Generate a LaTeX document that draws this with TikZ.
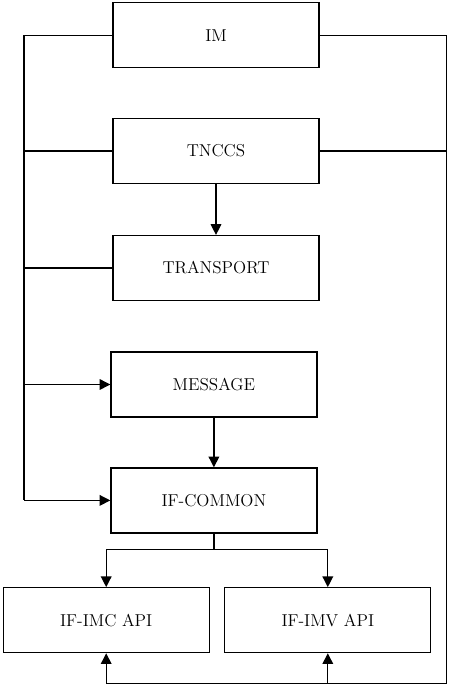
\documentclass[tikz,border=0pt]{standalone}
\usetikzlibrary{arrows.meta}
\begin{document}
\begin{tikzpicture}[x=0.75pt,y=-0.75pt,
  blk/.style={draw,line width=0.9pt,minimum width=206*0.75pt,minimum height=65*0.75pt,inner sep=0pt,font=\fontsize{12.9}{15}\selectfont},
  conn/.style={line width=0.9pt},
  arr/.style={conn,-{Triangle[length=8pt,width=8pt]}}]
\useasboundingbox (0,0) rectangle (449,689);
\node[blk] (im) at (216,35.2) {IM};
\node[blk] (tnccs) at (216,151) {TNCCS};
\node[blk] (transport) at (216,268) {TRANSPORT};
\node[blk] (message) at (213.9,384.5) {MESSAGE};
\node[blk] (ifc) at (213.9,500.4) {IF-COMMON};
\node[blk] (imc) at (106.2,620.2) {IF-IMC API};
\node[blk] (imv) at (327.8,620.2) {IF-IMV API};
\coordinate (lt) at (24,35.2);
\coordinate (rt) at (446.5,35.2);
\coordinate (rb) at (446.5,683.5);
\coordinate (br) at (213.9,549.3);
% left bus
\draw[conn] (im.west) -- (lt) -- (lt |- ifc.west);
\draw[conn] (tnccs.west) -- (lt |- tnccs.west);
\draw[conn] (transport.west) -- (lt |- transport.west);
\draw[arr] (lt |- message.west) -- (message.west);
\draw[arr] (lt |- ifc.west) -- (ifc.west);
% right bus
\draw[conn] (im.east) -- (rt) -- (rb) -- (imc.south |- rb);
\draw[conn] (tnccs.east) -- (rt |- tnccs.east);
\draw[arr] (imc.south |- rb) -- (imc.south);
\draw[arr] (imv.south |- rb) -- (imv.south);
% middle
\draw[arr] (tnccs.south) -- (transport.north);
\draw[arr] (message.south) -- (ifc.north);
\draw[conn] (ifc.south) -- (br);
\draw[arr] (br) -| (imc.north);
\draw[arr] (br) -| (imv.north);
\end{tikzpicture}
\end{document}
